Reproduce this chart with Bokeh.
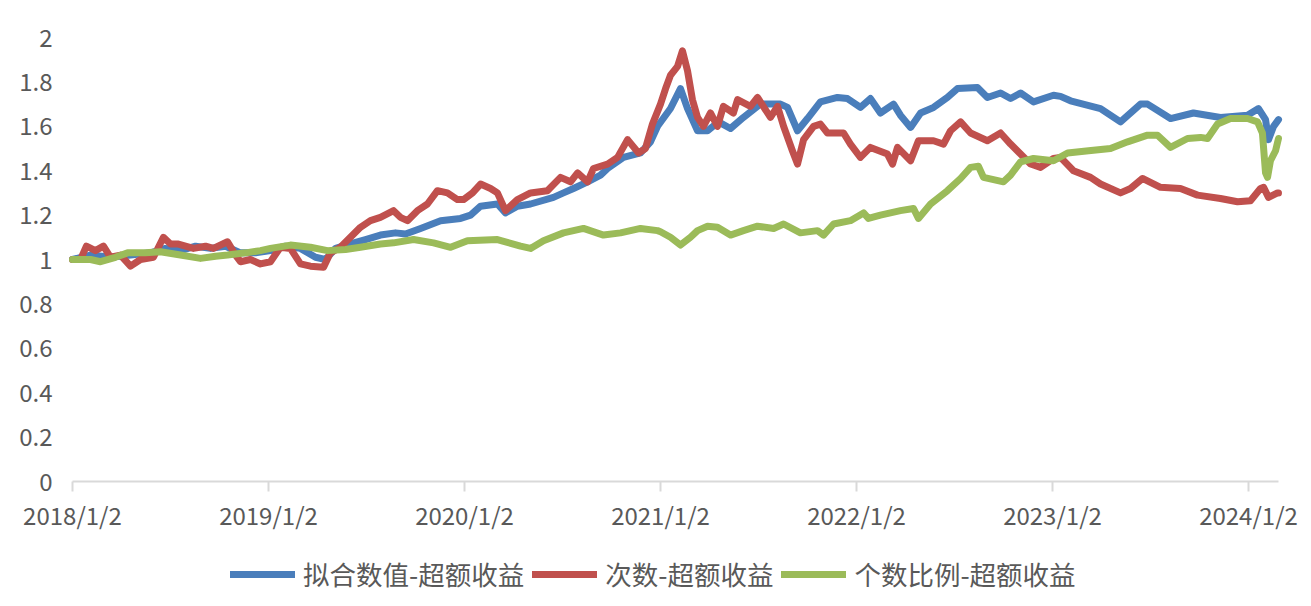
from bokeh.plotting import figure
from bokeh.models import Legend, LegendItem, FixedTicker, Range1d
from bokeh.embed import file_html
from bokeh.resources import INLINE

# ---- data (time as decimal years, values = cumulative excess return) ----
blue_t = [2018.000, 2018.092, 2018.194, 2018.296, 2018.398, 2018.474, 2018.551, 2018.628, 2018.704, 2018.781,
          2018.857, 2018.934, 2019.010, 2019.087, 2019.163, 2019.240, 2019.291, 2019.342, 2019.418, 2019.495,
          2019.571, 2019.648, 2019.699, 2019.776, 2019.878, 2019.980, 2020.031, 2020.082, 2020.168, 2020.209,
          2020.270, 2020.337, 2020.454, 2020.505, 2020.556, 2020.628, 2020.694, 2020.730, 2020.811, 2020.898,
          2020.949, 2020.985, 2021.051, 2021.102, 2021.138, 2021.189, 2021.240, 2021.296, 2021.357, 2021.423,
          2021.510, 2021.612, 2021.648, 2021.699, 2021.750, 2021.816, 2021.903, 2021.954, 2022.020, 2022.071,
          2022.122, 2022.189, 2022.224, 2022.276, 2022.327, 2022.393, 2022.464, 2022.515, 2022.617, 2022.668,
          2022.735, 2022.786, 2022.837, 2022.903, 2023.005, 2023.041, 2023.092, 2023.245, 2023.347, 2023.449,
          2023.485, 2023.602, 2023.719, 2023.857, 2023.995, 2024.051, 2024.087, 2024.102, 2024.128, 2024.153]
blue_v = [1.00, 1.02, 1.01, 1.02, 1.03, 1.05, 1.04, 1.06, 1.05, 1.06,
          1.03, 1.03, 1.04, 1.06, 1.05, 1.01, 1.00, 1.05, 1.07, 1.09,
          1.11, 1.12, 1.115, 1.14, 1.175, 1.185, 1.20, 1.24, 1.25, 1.21,
          1.24, 1.25, 1.28, 1.30, 1.32, 1.35, 1.38, 1.41, 1.46, 1.48,
          1.53, 1.60, 1.68, 1.77, 1.68, 1.58, 1.58, 1.62, 1.59, 1.64,
          1.70, 1.70, 1.685, 1.58, 1.635, 1.71, 1.73, 1.725, 1.685, 1.725,
          1.66, 1.70, 1.65, 1.595, 1.66, 1.685, 1.73, 1.77, 1.775, 1.73,
          1.75, 1.725, 1.75, 1.71, 1.74, 1.735, 1.715, 1.68, 1.62, 1.70,
          1.70, 1.635, 1.66, 1.64, 1.65, 1.68, 1.63, 1.54, 1.60, 1.63]

red_t = [2018.000, 2018.041, 2018.071, 2018.117, 2018.158, 2018.194, 2018.245, 2018.296, 2018.347, 2018.413,
         2018.464, 2018.500, 2018.536, 2018.617, 2018.679, 2018.719, 2018.791, 2018.832, 2018.857, 2018.908,
         2018.959, 2019.010, 2019.061, 2019.112, 2019.163, 2019.214, 2019.281, 2019.316, 2019.367, 2019.418,
         2019.469, 2019.520, 2019.571, 2019.638, 2019.673, 2019.709, 2019.760, 2019.811, 2019.862, 2019.913,
         2019.964, 2019.995, 2020.041, 2020.082, 2020.133, 2020.168, 2020.209, 2020.270, 2020.337, 2020.423,
         2020.490, 2020.541, 2020.577, 2020.628, 2020.658, 2020.730, 2020.781, 2020.832, 2020.888, 2020.923,
         2020.959, 2021.000, 2021.026, 2021.051, 2021.087, 2021.112, 2021.138, 2021.163, 2021.189, 2021.219,
         2021.255, 2021.291, 2021.321, 2021.372, 2021.393, 2021.459, 2021.495, 2021.561, 2021.597, 2021.628,
         2021.673, 2021.699, 2021.730, 2021.781, 2021.816, 2021.852, 2021.934, 2021.969, 2022.020, 2022.071,
         2022.158, 2022.184, 2022.209, 2022.276, 2022.316, 2022.393, 2022.444, 2022.480, 2022.531, 2022.582,
         2022.668, 2022.735, 2022.786, 2022.837, 2022.888, 2022.939, 2023.005, 2023.041, 2023.107, 2023.194,
         2023.245, 2023.347, 2023.398, 2023.459, 2023.551, 2023.653, 2023.740, 2023.857, 2023.944, 2024.010,
         2024.061, 2024.077, 2024.102, 2024.148, 2024.153]
red_v = [1.00, 1.00, 1.06, 1.04, 1.06, 1.01, 1.02, 0.97, 1.00, 1.01,
         1.10, 1.07, 1.07, 1.05, 1.06, 1.05, 1.08, 1.02, 0.99, 1.00,
         0.98, 0.99, 1.055, 1.05, 0.98, 0.97, 0.965, 1.03, 1.055, 1.10,
         1.145, 1.175, 1.19, 1.22, 1.19, 1.175, 1.22, 1.25, 1.31, 1.30,
         1.27, 1.27, 1.30, 1.34, 1.32, 1.30, 1.22, 1.27, 1.30, 1.31,
         1.37, 1.35, 1.39, 1.35, 1.41, 1.43, 1.46, 1.54, 1.48, 1.50,
         1.61, 1.70, 1.77, 1.83, 1.87, 1.94, 1.85, 1.72, 1.64, 1.60,
         1.66, 1.60, 1.69, 1.66, 1.72, 1.69, 1.73, 1.64, 1.69, 1.60,
         1.49, 1.43, 1.54, 1.60, 1.61, 1.57, 1.57, 1.52, 1.46, 1.505,
         1.475, 1.43, 1.505, 1.445, 1.535, 1.535, 1.52, 1.58, 1.62, 1.57,
         1.535, 1.57, 1.52, 1.475, 1.43, 1.415, 1.455, 1.46, 1.40, 1.37,
         1.34, 1.30, 1.32, 1.365, 1.325, 1.32, 1.29, 1.275, 1.26, 1.265,
         1.32, 1.325, 1.28, 1.30, 1.30]

green_t = [2018.000, 2018.092, 2018.143, 2018.219, 2018.281, 2018.372, 2018.449, 2018.551, 2018.653, 2018.730,
           2018.791, 2018.883, 2018.959, 2019.010, 2019.112, 2019.214, 2019.301, 2019.393, 2019.469, 2019.571,
           2019.638, 2019.740, 2019.842, 2019.929, 2020.015, 2020.168, 2020.286, 2020.337, 2020.403, 2020.505,
           2020.607, 2020.709, 2020.796, 2020.898, 2020.985, 2021.000, 2021.051, 2021.102, 2021.153, 2021.189,
           2021.240, 2021.291, 2021.357, 2021.423, 2021.495, 2021.577, 2021.628, 2021.714, 2021.801, 2021.832,
           2021.883, 2021.969, 2022.036, 2022.061, 2022.122, 2022.224, 2022.291, 2022.316, 2022.378, 2022.464,
           2022.531, 2022.582, 2022.622, 2022.648, 2022.750, 2022.786, 2022.837, 2022.903, 2023.005, 2023.077,
           2023.184, 2023.296, 2023.383, 2023.485, 2023.536, 2023.602, 2023.689, 2023.755, 2023.791, 2023.842,
           2023.908, 2023.995, 2024.046, 2024.071, 2024.087, 2024.097, 2024.112, 2024.138, 2024.153]
green_v = [1.00, 1.00, 0.99, 1.01, 1.03, 1.03, 1.035, 1.02, 1.005, 1.015,
           1.02, 1.03, 1.04, 1.05, 1.065, 1.055, 1.04, 1.045, 1.055, 1.07,
           1.075, 1.09, 1.075, 1.055, 1.085, 1.09, 1.06, 1.05, 1.085, 1.12,
           1.14, 1.11, 1.12, 1.14, 1.13, 1.125, 1.10, 1.065, 1.10, 1.13,
           1.15, 1.145, 1.11, 1.13, 1.15, 1.14, 1.16, 1.12, 1.13, 1.11,
           1.16, 1.175, 1.21, 1.185, 1.20, 1.22, 1.23, 1.185, 1.25, 1.31,
           1.365, 1.415, 1.42, 1.37, 1.35, 1.38, 1.44, 1.455, 1.445, 1.48,
           1.49, 1.50, 1.53, 1.56, 1.56, 1.505, 1.545, 1.55, 1.545, 1.61,
           1.635, 1.635, 1.62, 1.57, 1.39, 1.37, 1.445, 1.49, 1.545]

series_names = ["拟合数值-超额收益", "次数-超额收益", "个数比例-超额收益"]
series_colors = ["#4a7ebb", "#c0504d", "#9bbb59"]

x_ticks = [2018, 2019, 2020, 2021, 2022, 2023, 2024]
x_tick_labels = ["2018/1/2", "2019/1/2", "2020/1/2", "2021/1/2", "2022/1/2", "2023/1/2", "2024/1/2"]
y_ticks = [0, 0.2, 0.4, 0.6, 0.8, 1.0, 1.2, 1.4, 1.6, 1.8, 2.0]
y_tick_labels = ["0", "0.2", "0.4", "0.6", "0.8", "1", "1.2", "1.4", "1.6", "1.8", "2"]
x_first, x_last = 2018.0, 2024.153

FONT = "Noto Sans CJK SC"
TXT = "#595959"

# The frame fills the whole figure; both axes are pinned at data locations inside it
# so the tick labels and the legend (below value 0) are not clipped.
p = figure(width=1305, height=600, output_backend="svg", toolbar_location=None,
           x_range=Range1d(2017.6327, 2024.2908), y_range=Range1d(-0.536, 2.1667),
           min_border_left=0, min_border_right=0, min_border_top=0, min_border_bottom=0)
p.outline_line_color = None
p.xgrid.grid_line_color = None
p.ygrid.grid_line_color = None
p.background_fill_color = "white"
p.border_fill_color = "white"

# x axis
p.xaxis.fixed_location = 0
p.xaxis.bounds = (x_first, x_last)
p.xaxis.ticker = FixedTicker(ticks=x_ticks)
p.xaxis.major_label_overrides = {t: s for t, s in zip(x_ticks, x_tick_labels)}
p.xaxis.axis_line_color = "#d9d9d9"
p.xaxis.axis_line_width = 2
p.xaxis.major_tick_line_color = "#d9d9d9"
p.xaxis.major_tick_line_width = 2
p.xaxis.major_tick_out = 10
p.xaxis.major_tick_in = 0
p.xaxis.minor_tick_line_color = None
p.xaxis.major_label_standoff = 5
p.xaxis.major_label_text_font = FONT
p.xaxis.major_label_text_font_size = "24px"
p.xaxis.major_label_text_color = TXT

# y axis
p.yaxis.fixed_location = x_first
p.yaxis.bounds = (0, 2)
p.yaxis.ticker = FixedTicker(ticks=y_ticks)
p.yaxis.major_label_overrides = {t: s for t, s in zip(y_ticks, y_tick_labels)}
p.yaxis.axis_line_color = None
p.yaxis.major_tick_line_color = None
p.yaxis.minor_tick_line_color = None
p.yaxis.major_tick_out = 0
p.yaxis.major_tick_in = 0
p.yaxis.major_label_standoff = 20
p.yaxis.major_label_text_font = FONT
p.yaxis.major_label_text_font_size = "24px"
p.yaxis.major_label_text_color = TXT

renderers = []
for (t, v), c in zip([(blue_t, blue_v), (red_t, red_v), (green_t, green_v)], series_colors):
    r = p.line(t, v, line_color=c, line_width=7, line_join="round", line_cap="round")
    renderers.append(r)

legend = Legend(items=[LegendItem(label=n, renderers=[r]) for n, r in zip(series_names, renderers)],
                orientation="horizontal", location=(230, 7),
                glyph_width=65, glyph_height=30, label_height=30, label_standoff=8, spacing=8,
                padding=0, margin=0, border_line_color=None, background_fill_alpha=0,
                label_text_font=FONT, label_text_font_size="26.5px", label_text_color=TXT)
p.add_layout(legend)

open("out.html", "w").write(file_html(p, INLINE))
